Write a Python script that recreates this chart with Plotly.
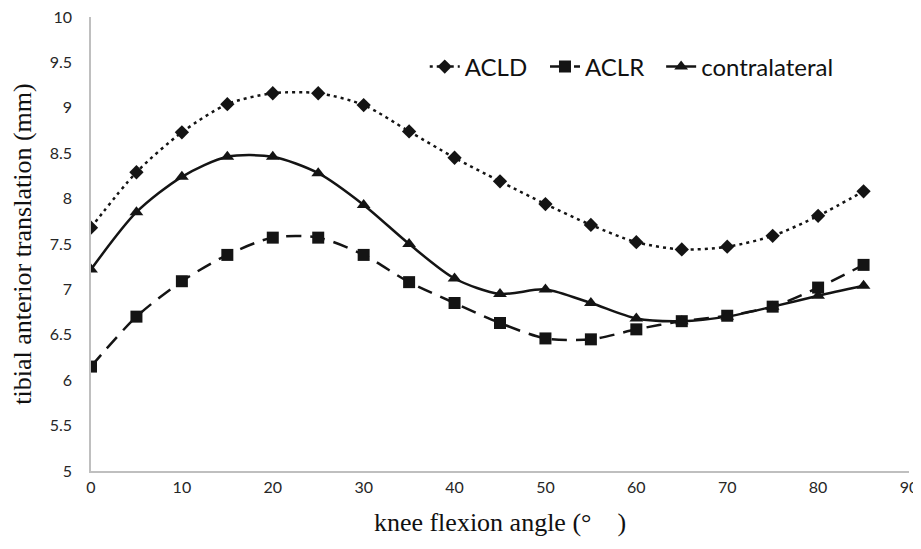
import plotly.graph_objects as go

angles = [0, 5, 10, 15, 20, 25, 30, 35, 40, 45, 50, 55, 60, 65, 70, 75, 80, 85]
acld = [7.68, 8.29, 8.73, 9.04, 9.16, 9.16, 9.03, 8.74, 8.45, 8.19, 7.94, 7.71, 7.52, 7.44, 7.47, 7.59, 7.81, 8.08]
aclr = [6.15, 6.70, 7.09, 7.38, 7.57, 7.57, 7.38, 7.08, 6.85, 6.63, 6.46, 6.45, 6.56, 6.65, 6.71, 6.81, 7.02, 7.27]
contra = [7.22, 7.85, 8.24, 8.46, 8.46, 8.28, 7.93, 7.50, 7.12, 6.95, 7.00, 6.85, 6.68, 6.65, 6.70, 6.81, 6.93, 7.04]

x_ticks = [0, 10, 20, 30, 40, 50, 60, 70, 80, 90]
y_ticks = [5, 5.5, 6, 6.5, 7, 7.5, 8, 8.5, 9, 9.5, 10]

ink = "#141414"
serif = "Liberation Serif, Times New Roman, serif"
sans = "Lato, Open Sans, sans-serif"

fig = go.Figure()
fig.add_trace(go.Scatter(
    x=angles, y=acld, name="ACLD", mode="lines+markers", legend="legend",
    line=dict(color=ink, width=2.5, dash="3px,4px", shape="spline", smoothing=0.8),
    marker=dict(symbol="diamond", size=11, color=ink)))
fig.add_trace(go.Scatter(
    x=angles, y=aclr, name="ACLR", mode="lines+markers", legend="legend2",
    line=dict(color=ink, width=2.5, dash="15px,9px", shape="spline", smoothing=0.8),
    marker=dict(symbol="square", size=12, color=ink)))
fig.add_trace(go.Scatter(
    x=angles, y=contra, name="contralateral", mode="lines+markers", legend="legend3",
    line=dict(color=ink, width=2.5, shape="spline", smoothing=0.8),
    marker=dict(symbol="triangle-up", size=12, color=ink)))

legend_common = dict(orientation="h", y=0.89, xanchor="left", yanchor="middle",
                     font=dict(size=24, family=sans, color="#111111"),
                     bgcolor="rgba(0,0,0,0)", itemwidth=30)

# page body adds an 8px margin; the figure is sized so it still fits the 921x549 window
fig.update_layout(
    width=913, height=541,
    margin=dict(l=83, r=12, t=9, b=78),
    paper_bgcolor="white", plot_bgcolor="white",
    font=dict(family=sans, color="#262626", size=16),
    legend=dict(x=0.408, **legend_common),
    legend2=dict(x=0.555, **legend_common),
    legend3=dict(x=0.697, **legend_common),
    showlegend=True,
)
fig.update_xaxes(
    range=[0, 90], tickvals=x_ticks, ticktext=[str(v) for v in x_ticks],
    showline=True, linecolor="#bfbfbf", linewidth=1.5, showgrid=False, zeroline=False,
    ticks="", tickfont=dict(size=16), ticklabelstandoff=1, automargin=False,
    ticklabeloverflow="allow",
    title=dict(text="knee flexion angle (°\u2003)", font=dict(family=serif, size=26, color="#111111"), standoff=18),
)
fig.update_yaxes(
    range=[5, 10], tickvals=y_ticks, ticktext=[f"{v:g}" for v in y_ticks],
    showline=True, linecolor="#bfbfbf", linewidth=1.5, showgrid=False, zeroline=False,
    ticks="", tickfont=dict(size=16), ticklabelstandoff=14, automargin=False,
    ticklabeloverflow="allow",
    title=dict(text="tibial anterior translation (mm)", font=dict(family=serif, size=26, color="#111111"), standoff=16),
)

fig.write_html("out.html")
